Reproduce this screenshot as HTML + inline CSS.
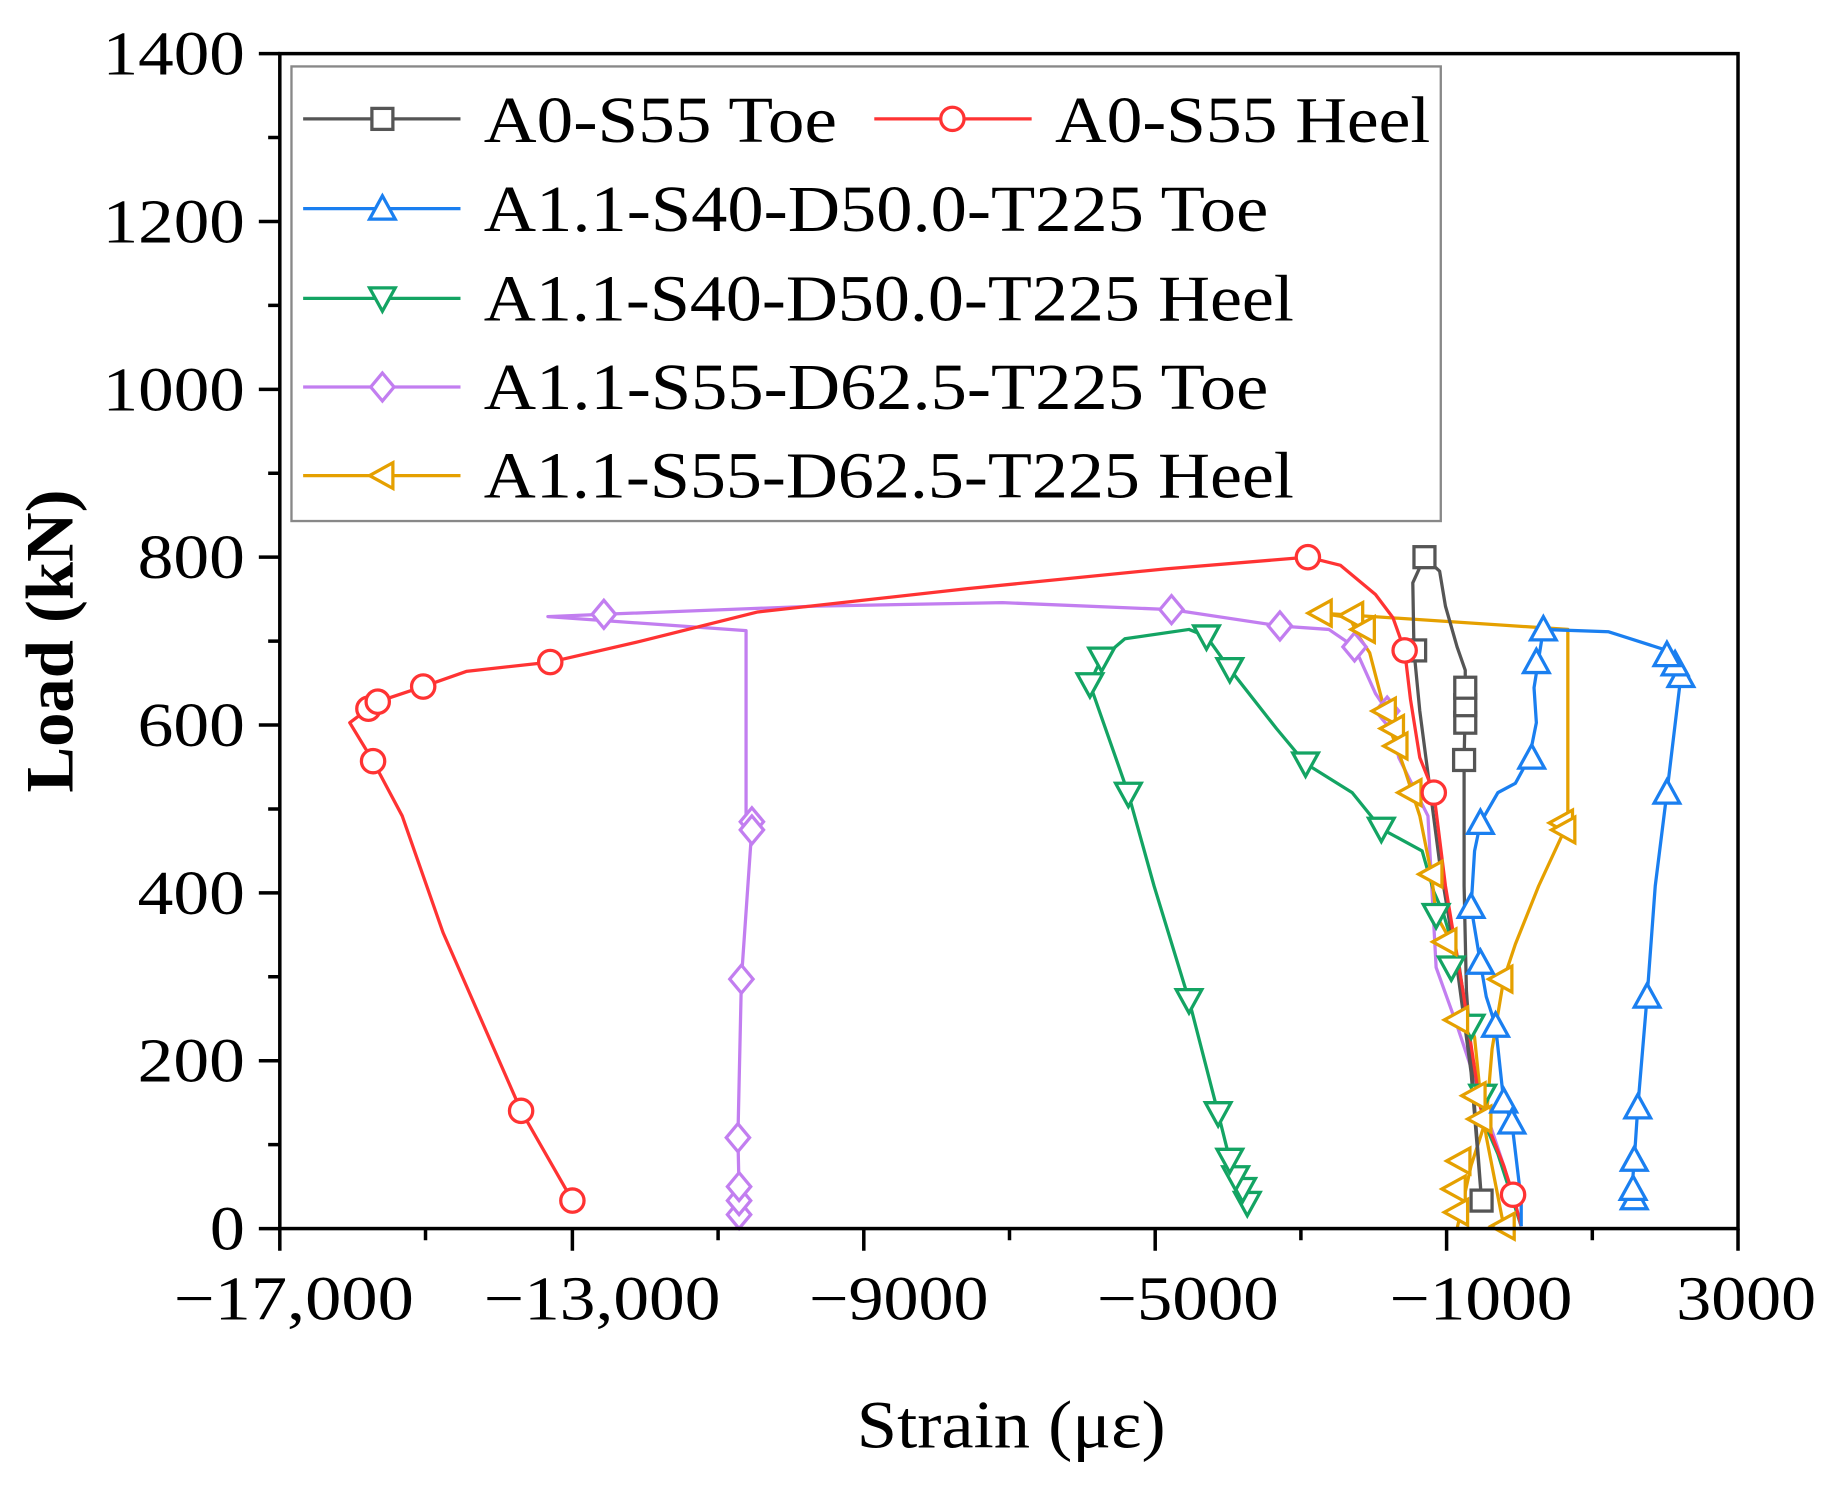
<!DOCTYPE html>
<html><head><meta charset="utf-8"><style>html,body{margin:0;padding:0;background:#fff;}svg{display:block}text{font-family:"Liberation Serif","Times New Roman",serif;}</style></head>
<body>
<svg width="1829" height="1492" viewBox="0 0 1569 1280" xmlns="http://www.w3.org/2000/svg">
<defs>
<g id="sq"><rect x="-9" y="-9" width="18" height="18" fill="#fff" stroke="#555" stroke-width="2.8"/></g>
<g id="ci"><circle r="10" fill="#fff" stroke="#f33" stroke-width="2.8"/></g>
<g id="tu"><path d="M0,-11 L11,9 L-11,9 Z" fill="#fff" stroke="#1a7ff0" stroke-width="2.8"/></g>
<g id="td"><path d="M0,11 L11,-9 L-11,-9 Z" fill="#fff" stroke="#13a463" stroke-width="2.8"/></g>
<g id="di"><path d="M0,-12 L10,0 L0,12 L-10,0 Z" fill="#fff" stroke="#c27ef0" stroke-width="2.8"/></g>
<g id="tl"><path d="M-11,0 L9,-11 L9,11 Z" fill="#fff" stroke="#e5a000" stroke-width="2.8"/></g>
</defs>
<g fill="none" stroke-width="2.8" stroke-linejoin="round">
<polyline stroke="#c27ef0" points="1305,1052 1290,1000 1270,940 1250,880 1232,830 1225,700 1200,650 1190,610 1180,595 1162,555 1140,540 1098,537 1005,523 860,517 700,520 518,527 470,529 640,541 640,700 645,710 636,840 633,976 634,1020 634,1042"/>
<polyline stroke="#13a463" points="1305,1052 1285,990 1272,960 1262,900 1252,830 1238,783 1230,765 1220,730 1185,711 1160,680 1120,655 1095,625 1055,574 1035,546 1020,540 965,548 945,565 940,575 935,587 968,681 990,760 1020,858 1045,955 1055,995 1065,1015 1070,1032"/>
<polyline stroke="#e5a000" points="1290,1052 1275,975 1270,940 1265,890 1258,870 1245,808 1232,785 1228,750 1218,700 1205,660 1198,640 1192,625 1188,610 1175,560 1165,545 1158,530 1133,526 1345,540 1345,706 1320,760 1300,810 1290,840 1280,900 1275,960 1262,1000 1250,1054"/>
<polyline stroke="#555" points="1271,1030 1265,950 1258,850 1256,760 1256,652 1257,605 1257,575 1250,555 1240,520 1235,490 1222,478 1212,500 1213,558 1218,610 1235,740 1250,830 1262,920 1271,1030"/>
<polyline stroke="#f33" points="1305,1052 1298,1025 1290,1000 1270,950 1255,850 1240,760 1230,680 1218,650 1210,600 1205,558 1195,530 1180,510 1150,485 1122,478 1000,488 830,505 650,525 550,550 472,568 400,576 363,589 324,602 316,608 300,620 320,653 345,700 380,800 447,953 491,1030"/>
<polyline stroke="#1a7ff0" points="1305,1052 1305,1030 1297,963 1290,945 1283,880 1275,855 1270,826 1262,778 1265,730 1270,706 1285,680 1300,672 1312,650 1318,620 1316,590 1324,540 1380,542 1430,558 1437,570 1442,580 1430,680 1420,760 1413,855 1405,950 1402,995 1400,1020 1402,1028"/>
</g>
<g>
<use href="#di" x="634" y="1042"/><use href="#di" x="634" y="1030"/><use href="#di" x="634" y="1018"/><use href="#di" x="633" y="976"/><use href="#di" x="636" y="840"/><use href="#di" x="645" y="705"/><use href="#di" x="645" y="712"/><use href="#di" x="518" y="527"/><use href="#di" x="1005" y="523"/><use href="#di" x="1098" y="537"/><use href="#di" x="1162" y="555"/><use href="#di" x="1190" y="610"/>
<use href="#td" x="1070" y="1032"/><use href="#td" x="1066" y="1020"/><use href="#td" x="1060" y="1010"/><use href="#td" x="1055" y="995"/><use href="#td" x="1045" y="955"/><use href="#td" x="1020" y="858"/><use href="#td" x="968" y="681"/><use href="#td" x="935" y="587"/><use href="#td" x="945" y="565"/><use href="#td" x="1035" y="546"/><use href="#td" x="1055" y="574"/><use href="#td" x="1120" y="655"/><use href="#td" x="1185" y="711"/><use href="#td" x="1232" y="785"/><use href="#td" x="1245" y="830"/><use href="#td" x="1262" y="880"/><use href="#td" x="1272" y="940"/>
<use href="#tl" x="1133" y="526"/><use href="#tl" x="1160" y="528"/><use href="#tl" x="1170" y="540"/><use href="#tl" x="1188" y="610"/><use href="#tl" x="1195" y="625"/><use href="#tl" x="1198" y="640"/><use href="#tl" x="1210" y="680"/><use href="#tl" x="1228" y="750"/><use href="#tl" x="1240" y="808"/><use href="#tl" x="1250" y="875"/><use href="#tl" x="1265" y="940"/><use href="#tl" x="1270" y="960"/><use href="#tl" x="1252" y="996"/><use href="#tl" x="1248" y="1020"/><use href="#tl" x="1250" y="1040"/><use href="#tl" x="1288" y="840"/><use href="#tl" x="1340" y="706"/><use href="#tl" x="1342" y="712"/><use href="#tl" x="1290" y="1052"/>
<use href="#sq" x="1271" y="1030"/><use href="#sq" x="1256" y="652"/><use href="#sq" x="1257" y="620"/><use href="#sq" x="1257" y="605"/><use href="#sq" x="1257" y="590"/><use href="#sq" x="1222" y="478"/><use href="#sq" x="1214" y="558"/>
<use href="#ci" x="491" y="1030"/><use href="#ci" x="447" y="953"/><use href="#ci" x="320" y="653"/><use href="#ci" x="316" y="608"/><use href="#ci" x="324" y="602"/><use href="#ci" x="363" y="589"/><use href="#ci" x="472" y="568"/><use href="#ci" x="1122" y="478"/><use href="#ci" x="1205" y="558"/><use href="#ci" x="1230" y="680"/><use href="#ci" x="1298" y="1025"/>
<use href="#tu" x="1402" y="1028"/><use href="#tu" x="1401" y="1020"/><use href="#tu" x="1402" y="995"/><use href="#tu" x="1405" y="950"/><use href="#tu" x="1413" y="855"/><use href="#tu" x="1430" y="680"/><use href="#tu" x="1442" y="580"/><use href="#tu" x="1437" y="570"/><use href="#tu" x="1430" y="562"/><use href="#tu" x="1324" y="540"/><use href="#tu" x="1318" y="568"/><use href="#tu" x="1314" y="650"/><use href="#tu" x="1270" y="706"/><use href="#tu" x="1262" y="778"/><use href="#tu" x="1270" y="826"/><use href="#tu" x="1283" y="880"/><use href="#tu" x="1290" y="945"/><use href="#tu" x="1297" y="963"/>
</g>
<g stroke="#000" stroke-width="3" fill="none">
<rect x="240" y="46" width="1251" height="1008"/>
<path d="M240,1054 v19 M365,1054 v10 M491,1054 v19 M616,1054 v10 M741,1054 v19 M866,1054 v10 M991,1054 v19 M1116,1054 v10 M1241,1054 v19 M1366,1054 v10 M1491,1054 v19"/>
<path d="M240,1054 h-18 M240,982 h-10 M240,910 h-18 M240,838 h-10 M240,766 h-18 M240,694 h-10 M240,622 h-18 M240,550 h-10 M240,478 h-18 M240,406 h-10 M240,334 h-18 M240,262 h-10 M240,190 h-18 M240,118 h-10 M240,46 h-18"/>
</g>
<g font-size="54" fill="#000" text-anchor="end">
<text x="210" y="1072" textLength="30" lengthAdjust="spacingAndGlyphs">0</text>
<text x="210" y="928" textLength="92" lengthAdjust="spacingAndGlyphs">200</text>
<text x="210" y="784" textLength="92" lengthAdjust="spacingAndGlyphs">400</text>
<text x="210" y="640" textLength="92" lengthAdjust="spacingAndGlyphs">600</text>
<text x="210" y="496" textLength="92" lengthAdjust="spacingAndGlyphs">800</text>
<text x="210" y="352" textLength="122" lengthAdjust="spacingAndGlyphs">1000</text>
<text x="210" y="208" textLength="122" lengthAdjust="spacingAndGlyphs">1200</text>
<text x="210" y="64" textLength="122" lengthAdjust="spacingAndGlyphs">1400</text>
</g>
<g font-size="54" fill="#000">
<text x="149" y="1132" textLength="206" lengthAdjust="spacingAndGlyphs">−17,000</text>
<text x="415" y="1132" textLength="203" lengthAdjust="spacingAndGlyphs">−13,000</text>
<text x="694" y="1132" textLength="154" lengthAdjust="spacingAndGlyphs">−9000</text>
<text x="941" y="1132" textLength="156" lengthAdjust="spacingAndGlyphs">−5000</text>
<text x="1192" y="1132" textLength="157" lengthAdjust="spacingAndGlyphs">−1000</text>
<text x="1438" y="1132" textLength="120" lengthAdjust="spacingAndGlyphs">3000</text>
<text x="735" y="1242" font-size="58" textLength="265" lengthAdjust="spacingAndGlyphs">Strain (με)</text>
<text transform="translate(62,680) rotate(-90)" font-size="58" font-weight="bold" textLength="260" lengthAdjust="spacingAndGlyphs">Load (kN)</text>
</g>
<rect x="250" y="57" width="986" height="390" fill="#fff" stroke="#888" stroke-width="2"/>
<g stroke-width="2.8">
<line x1="260" y1="102" x2="395" y2="102" stroke="#555"/><use href="#sq" x="328" y="102"/>
<line x1="750" y1="102" x2="885" y2="102" stroke="#f33"/><use href="#ci" x="817" y="102"/>
<line x1="260" y1="179" x2="395" y2="179" stroke="#1a7ff0"/><use href="#tu" x="328" y="179"/>
<line x1="260" y1="256" x2="395" y2="256" stroke="#13a463"/><use href="#td" x="328" y="256"/>
<line x1="260" y1="332" x2="395" y2="332" stroke="#c27ef0"/><use href="#di" x="328" y="332"/>
<line x1="260" y1="408" x2="395" y2="408" stroke="#e5a000"/><use href="#tl" x="328" y="408"/>
</g>
<g font-size="56" fill="#000">
<text x="415" y="122" textLength="303" lengthAdjust="spacingAndGlyphs">A0-S55 Toe</text>
<text x="905" y="122" textLength="322" lengthAdjust="spacingAndGlyphs">A0-S55 Heel</text>
<text x="415" y="198" textLength="673" lengthAdjust="spacingAndGlyphs">A1.1-S40-D50.0-T225 Toe</text>
<text x="415" y="275" textLength="695" lengthAdjust="spacingAndGlyphs">A1.1-S40-D50.0-T225 Heel</text>
<text x="415" y="351" textLength="673" lengthAdjust="spacingAndGlyphs">A1.1-S55-D62.5-T225 Toe</text>
<text x="415" y="427" textLength="695" lengthAdjust="spacingAndGlyphs">A1.1-S55-D62.5-T225 Heel</text>
</g>
</svg>
</body></html>
